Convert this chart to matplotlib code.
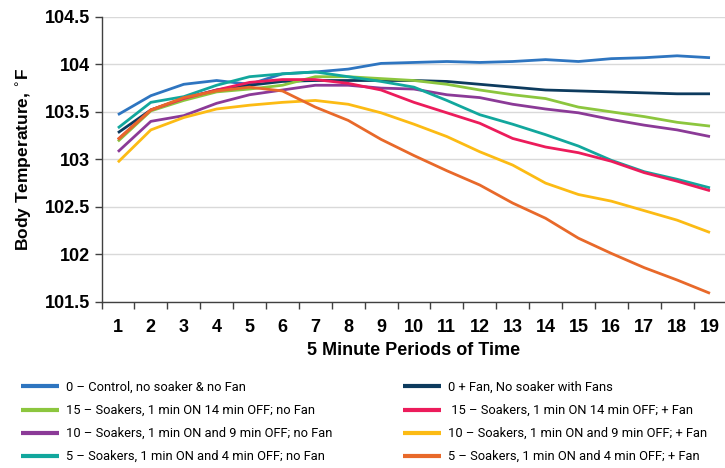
import numpy as np
import matplotlib
matplotlib.use("Agg")
import matplotlib.pyplot as plt
from matplotlib.ticker import FixedLocator

# body temperature over 5 minute periods, 8 treatments

periods = list(range(1, 20))

control = [103.47, 103.67, 103.79, 103.83, 103.79, 103.90, 103.92, 103.95, 104.01, 104.02,
           104.03, 104.02, 104.03, 104.05, 104.03, 104.06, 104.07, 104.09, 104.07]
fan_only = [103.28, 103.52, 103.64, 103.73, 103.78, 103.82, 103.83, 103.83, 103.83, 103.83,
            103.82, 103.79, 103.76, 103.73, 103.72, 103.71, 103.70, 103.69, 103.69]
s15_nofan = [103.19, 103.51, 103.62, 103.71, 103.74, 103.78, 103.87, 103.87, 103.85, 103.83,
             103.79, 103.73, 103.68, 103.64, 103.55, 103.50, 103.45, 103.39, 103.35]
s15_fan = [103.21, 103.52, 103.64, 103.73, 103.81, 103.84, 103.84, 103.80, 103.73, 103.60,
           103.49, 103.38, 103.22, 103.13, 103.07, 102.98, 102.86, 102.77, 102.67]
s10_nofan = [103.08, 103.40, 103.46, 103.59, 103.68, 103.73, 103.78, 103.78, 103.75, 103.74,
             103.68, 103.65, 103.58, 103.53, 103.49, 103.42, 103.36, 103.31, 103.24]
s10_fan = [102.97, 103.31, 103.44, 103.53, 103.57, 103.60, 103.62, 103.58, 103.49, 103.37,
           103.24, 103.08, 102.94, 102.75, 102.63, 102.56, 102.46, 102.36, 102.23]
s5_nofan = [103.33, 103.60, 103.66, 103.78, 103.87, 103.90, 103.92, 103.87, 103.82, 103.76,
            103.62, 103.47, 103.37, 103.26, 103.14, 102.99, 102.87, 102.79, 102.70]
s5_fan = [103.21, 103.52, 103.65, 103.72, 103.76, 103.72, 103.55, 103.41, 103.21, 103.04,
          102.88, 102.73, 102.54, 102.38, 102.17, 102.01, 101.86, 101.73, 101.59]

labels = [
    "0 \u2013 Control, no soaker & no Fan",
    "15 \u2013 Soakers, 1 min ON 14 min OFF; no Fan",
    "10 \u2013 Soakers, 1 min ON and 9 min OFF; no Fan",
    "5 \u2013 Soakers, 1 min ON and 4 min OFF; no Fan",
    "0 + Fan, No soaker with Fans",
    " 15 \u2013 Soakers, 1 min ON 14 min OFF; + Fan",
    "10 \u2013 Soakers, 1 min ON and 9 min OFF; + Fan",
    "5 \u2013 Soakers, 1 min ON and 4 min OFF; + Fan",
]
series = [control, s15_nofan, s10_nofan, s5_nofan, fan_only, s15_fan, s10_fan, s5_fan]
colors = ["#2e75c0", "#8cc63e", "#8b3a97", "#12a79d",
          "#0d3b5e", "#ec1c5b", "#fcbb14", "#e8692a"]
# draw order so overlaps look like the original
draw_order = [0, 4, 1, 2, 3, 5, 6, 7]

y_ticks = [101.5, 102, 102.5, 103, 103.5, 104, 104.5]
y_ticklabels = ["101.5", "102", "102.5", "103", "103.5", "104", "104.5"]

plt.rcParams['font.family'] = ['Liberation Sans', 'DejaVu Sans']

LEG_FONT = 9.3
COL2_X = 403  # pixel where the second legend column's lines start

fig = plt.figure(figsize=(7.25, 4.68), dpi=100)
ax = fig.add_axes([0.14, 0.355, 0.862, 0.609])

handles = [None] * len(series)
for i in draw_order:
    line, = ax.plot(periods, series[i], color=colors[i], lw=2.0,
                    solid_capstyle='butt', label=labels[i])
    handles[i] = line

ax.set_xlim(0.5, 19.5)
ax.set_ylim(101.5, 104.5)
ax.set_yticks(y_ticks)
ax.set_yticklabels(y_ticklabels, fontsize=13, fontweight='bold')
ax.set_xticks(periods)
ax.set_xticklabels([str(p) for p in periods], fontsize=13, fontweight='bold')
ax.xaxis.set_minor_locator(FixedLocator(np.arange(0.5, 19.6, 1.0)))
ax.tick_params(axis='x', which='major', length=0, pad=12)
ax.tick_params(axis='x', which='minor', length=5, width=1, color='#404040')
ax.tick_params(axis='y', length=5, width=1, color='#404040', pad=3)

ax.grid(axis='y', color='#d9d9d9', lw=1)
ax.set_axisbelow(True)
for side in ['top', 'right']:
    ax.spines[side].set_visible(False)
for side in ['left', 'bottom']:
    ax.spines[side].set_color('#404040')
    ax.spines[side].set_linewidth(1)

ax.set_ylabel("Body Temperature, $^{\\circ}$F", fontsize=12.5, fontweight='bold', labelpad=8)
ax.set_xlabel("5 Minute Periods of Time", fontsize=13, fontweight='bold', labelpad=5)


def make_legend(colspace):
    lg = fig.legend(handles, labels, ncol=2, loc='upper left',
                    bbox_to_anchor=(0.022, 0.197), frameon=False,
                    prop={'family': 'Roboto', 'size': LEG_FONT},
                    handlelength=2.95, handletextpad=0.55,
                    columnspacing=colspace, labelspacing=0.78, borderaxespad=0)
    for h in lg.legend_handles:
        h.set_linewidth(3)
        h.set_solid_capstyle('butt')
    return lg


# build once, measure where column 2 lands, rebuild with the right spacing
colspace = 4.0
leg = make_legend(colspace)
fig.canvas.draw()
r = fig.canvas.get_renderer()
x_now = leg.legend_handles[4].get_window_extent(r).x0
leg.remove()
colspace += (COL2_X - x_now) / (LEG_FONT * fig.dpi / 72)
leg = make_legend(colspace)

fig.savefig("out.png", dpi=100)
